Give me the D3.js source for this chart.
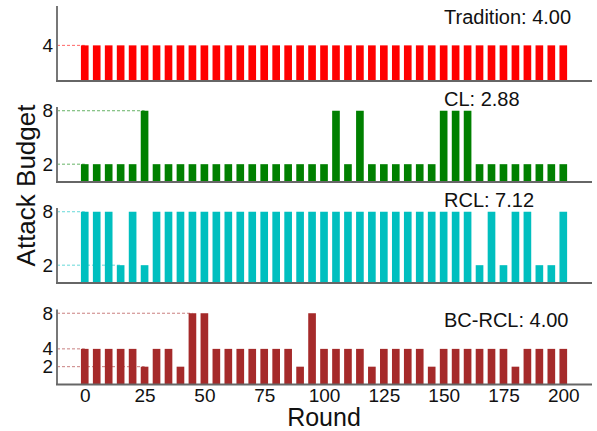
<!DOCTYPE html>
<html>
<head>
<meta charset="utf-8">
<script src="https://cdn.jsdelivr.net/npm/d3@7/dist/d3.min.js"></script>
<style>
  html, body { margin: 0; padding: 0; background: #fff; }
  svg { display: block; font-family: "Liberation Sans", Arial, Helvetica, sans-serif; }
</style>
</head>
<body>
<svg id="chart" width="597" height="431"></svg>
<script>
// ---- data ----
const rounds = d3.range(0, 201, 5);
const methods = ["Tradition", "CL", "RCL", "BC-RCL"];
const traditionValues = [4,4,4,4,4,4,4,4,4,4,4,4,4,4,4,4,4,4,4,4,4,4,4,4,4,4,4,4,4,4,4,4,4,4,4,4,4,4,4,4,4];
const clValues        = [2,2,2,2,2,8,2,2,2,2,2,2,2,2,2,2,2,2,2,2,2,8,2,8,2,2,2,2,2,2,8,8,8,2,2,2,2,2,2,2,2];
const rclValues       = [8,8,8,2,8,2,8,8,8,8,8,8,8,8,8,8,8,8,8,8,8,8,8,8,8,8,8,8,8,8,8,8,8,2,8,2,8,8,2,2,8];
const bcrclValues     = [4,4,4,4,4,2,4,4,2,8,8,4,4,4,4,4,4,4,2,8,4,4,4,4,2,4,4,4,4,2,4,4,4,4,4,4,2,4,4,4,4];
const meanLabels = ["4.00", "2.88", "7.12", "4.00"];
const yTicks = [[4], [2, 8], [2, 8], [2, 4, 8]];
const xTicks = [0, 25, 50, 75, 100, 125, 150, 175, 200];
const colors = ["#ff0000", "#008000", "#00bfbf", "#a52a2a"];
const seriesValues = [traditionValues, clValues, rclValues, bcrclValues];

// ---- layout ----
const svg = d3.select("#chart");
const left = 57, right = 592;
const panelTops = [6, 107, 208, 309.5];
const panelH = 75;
const labelY = [6.4, 8.5, 8.5, 6.45];

const x = d3.scaleLinear().domain([-11.6, 212]).range([left, right]);
const barW = x(3.2) - x(0);

methods.forEach((m, p) => {
  const vals = seriesValues[p];
  const top = panelTops[p], bottom = top + panelH;
  const y = d3.scaleLinear().domain([0, 8.42]).range([bottom, top]);
  const g = svg.append("g");

  // dashed reference lines to first occurrence
  yTicks[p].forEach(t => {
    const idx = vals.indexOf(t);
    const xr = rounds[idx];
    g.append("line")
      .attr("x1", left).attr("x2", x(xr))
      .attr("y1", y(t)).attr("y2", y(t))
      .attr("stroke", colors[p]).attr("stroke-opacity", 0.6)
      .attr("stroke-width", 1).attr("stroke-dasharray", "3,2");
  });

  // bars
  g.selectAll("rect").data(rounds).join("rect")
    .attr("x", (d) => x(d) - barW / 2)
    .attr("width", barW)
    .attr("y", (d, i) => y(vals[i]))
    .attr("height", (d, i) => y(0) - y(vals[i]))
    .attr("fill", colors[p]);

  // y axis
  const yAxis = d3.axisLeft(y).tickValues(yTicks[p]).tickSize(0).tickPadding(4).tickFormat(d3.format("d"));
  const ya = g.append("g").attr("transform", `translate(${left},0)`).call(yAxis);
  ya.select(".domain").remove();
  ya.selectAll("text").attr("font-size", 19).attr("fill", "#111")
    .attr("font-family", "'Liberation Sans', Arial, sans-serif");

  // spines
  g.append("line").attr("x1", left).attr("x2", left).attr("y1", top).attr("y2", bottom)
    .attr("stroke", "#777").attr("stroke-width", 2);
  g.append("line").attr("x1", left - 1).attr("x2", right).attr("y1", bottom).attr("y2", bottom)
    .attr("stroke", "#666").attr("stroke-width", 2);

  // annotation
  g.append("text").attr("x", 444).attr("y", y(labelY[p]))
    .attr("font-size", 20).attr("fill", "#111")
    .text(`${m}: ${meanLabels[p]}`);

  if (p === methods.length - 1) {
    const xAxis = d3.axisBottom(x).tickValues(xTicks).tickSize(0).tickPadding(4);
    const xa = g.append("g").attr("transform", `translate(0,${bottom})`).call(xAxis);
    xa.select(".domain").remove();
    xa.selectAll("text").attr("font-size", 19).attr("fill", "#111")
      .attr("font-family", "'Liberation Sans', Arial, sans-serif");
  }
});

// axis titles
svg.append("text").attr("x", 324).attr("y", 425.5).attr("text-anchor", "middle")
  .attr("font-size", 25).attr("fill", "#111").text("Round");
svg.append("text").attr("transform", "translate(35,185.5) rotate(-90)")
  .attr("text-anchor", "middle").attr("font-size", 26).attr("fill", "#111").text("Attack Budget");
</script>
</body>
</html>
